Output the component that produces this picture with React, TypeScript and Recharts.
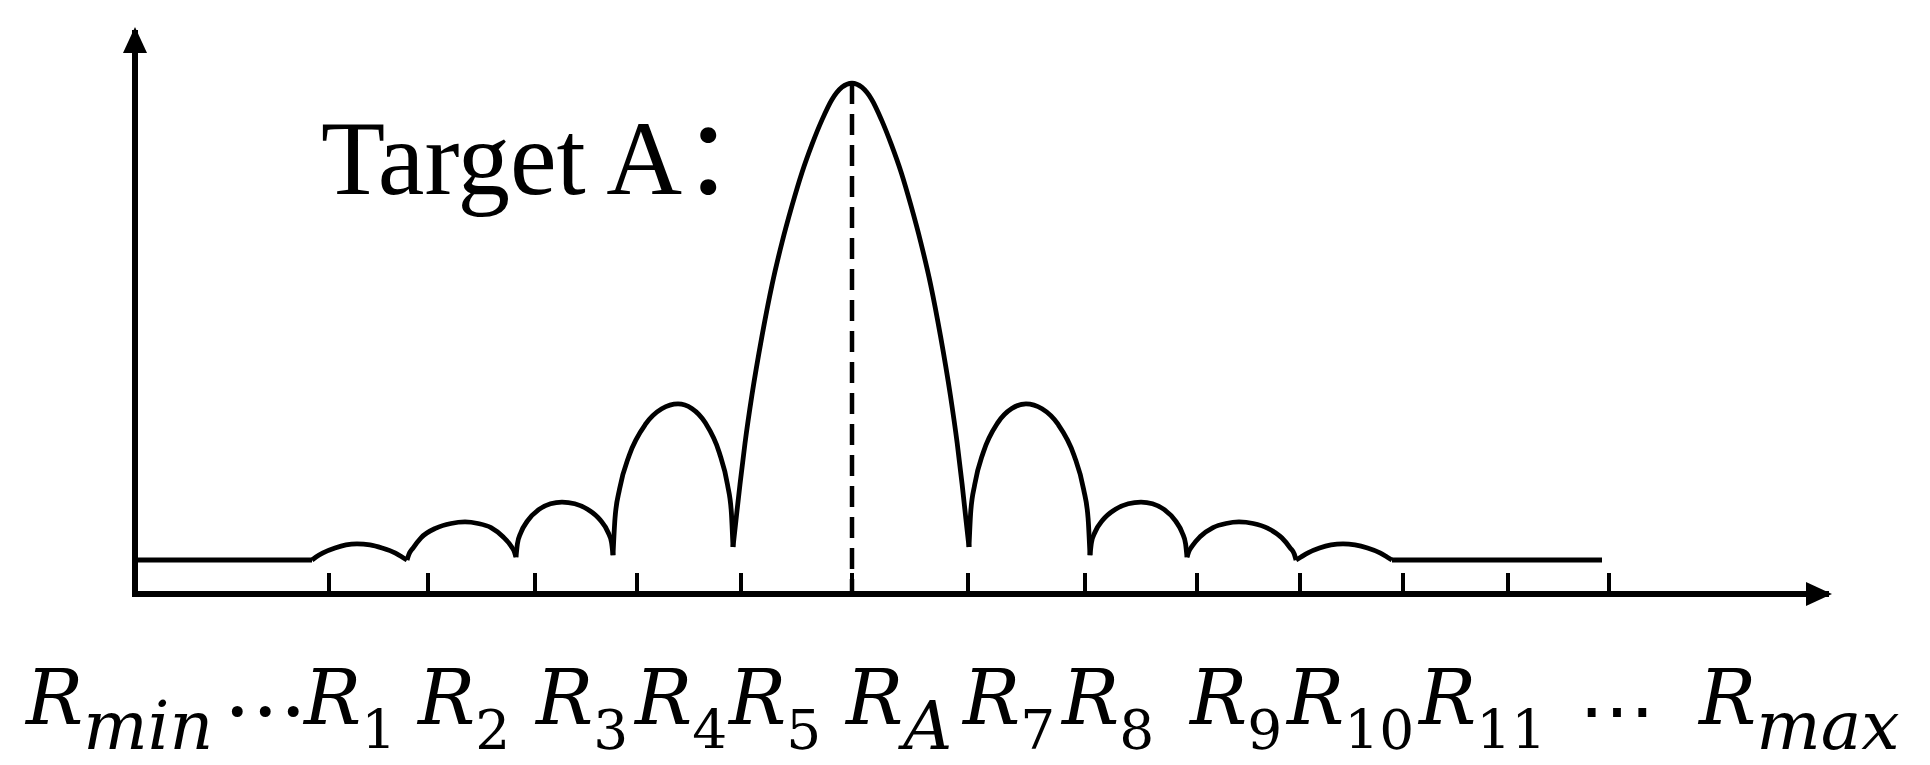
import React from 'react';
import { ComposedChart, Line, XAxis, YAxis, ReferenceLine } from 'recharts';

// Range axis (r) runs from the origin to the arrow, level axis (v) has the main lobe at 100.
// Each lobe is listed as [r, v] pairs.
const leftTail = [[0, 6.65], [177, 6.65]];
const lobe1 = [
  [177, 6.65], [181, 7.25], [188, 8.05], [200, 9.0], [211, 9.6], [222, 9.8],
  [235, 9.6], [247, 9.0], [260, 8.05], [267, 7.25], [272, 6.65],
];
const lobe2 = [
  [272, 6.65], [274, 7.8], [278, 9.0], [286, 11.0], [301, 12.9], [316, 13.8], [330, 14.1],
  [343, 13.8], [356, 13.0], [368, 11.2], [376, 9.4], [379.5, 8.2], [381, 7.2],
];
const lobe3 = [
  [381, 7.2], [382.4, 9.8], [385.6, 11.9], [392.5, 14.3], [404, 16.55], [415.5, 17.65], [427, 18.0],
  [439.75, 17.67], [452.5, 16.6], [465.25, 14.47], [472.9, 12.13], [476.5, 10.13], [478, 7.6],
];
const lobe4 = [
  [478, 7.6], [480, 14.8], [484.5, 20.5], [494.25, 27.17], [510.5, 33.23], [526.75, 36.25], [543, 37.2],
  [556.75, 36.3], [570.5, 33.45], [584.25, 27.71], [592.5, 21.41], [596.35, 16.0], [598, 9.2],
];
const mainLobe = [
  [598, 9.2], [601, 14.5], [605, 21.5], [610, 29.5], [617, 39.0], [627, 50.5], [637, 60.5], [647, 68.8],
  [657, 76.0], [667, 82.5], [677, 88.0], [687, 92.8], [697, 96.8], [707, 99.2], [717, 100],
  [726.8, 99.2], [736.7, 96.8], [746.5, 92.8], [756.3, 88.0], [766.2, 82.5], [776, 76.0], [785.8, 68.8],
  [795.7, 60.5], [805.5, 50.5], [815.3, 39.0], [822.2, 29.5], [827.1, 21.5], [831, 14.5], [834, 9.2],
];
const lobe7 = [
  [834, 9.2], [835.7, 16.0], [839.7, 21.41], [848.25, 27.71], [862.5, 33.45], [876.75, 36.3], [891, 37.2],
  [907, 36.25], [923, 33.23], [939, 27.17], [948.6, 20.5], [953.1, 14.8], [955, 7.6],
];
const lobe8 = [
  [955, 7.6], [956.5, 10.13], [960.1, 12.13], [967.75, 14.47], [980.5, 16.6], [993.25, 17.67], [1006, 18.0],
  [1017.5, 17.65], [1029, 16.55], [1040.5, 14.3], [1047.4, 11.9], [1050.6, 9.8], [1052, 7.2],
];
const lobe9 = [
  [1052, 7.2], [1053.6, 8.2], [1057.2, 9.4], [1065, 11.2], [1078, 13.0], [1091, 13.8], [1104, 14.1],
  [1118.25, 13.8], [1132.5, 12.9], [1146.75, 11.0], [1155.3, 9.0], [1159.3, 7.8], [1161, 6.65],
];
const lobe10 = [
  [1161, 6.65], [1166, 7.25], [1173, 8.05], [1184.5, 9.0], [1196, 9.6], [1208, 9.8],
  [1220, 9.6], [1232.5, 9.0], [1245, 8.05], [1252, 7.25], [1257, 6.65],
];
const rightTail = [[1257, 6.65], [1467, 6.65]];

const segments = [leftTail, lobe1, lobe2, lobe3, lobe4, mainLobe, lobe7, lobe8, lobe9, lobe10, rightTail];

// target bin
const targetR = 717;
const targetPeak = 100;

// ticks: origin, 13 marked range bins, axis end
const tickRs = [0, 194, 293, 400, 502, 606, 717, 833, 950, 1062, 1165, 1268, 1373, 1474, 1691];
const tickBase = ['R', 'R', 'R', 'R', 'R', 'R', 'R', 'R', 'R', 'R', 'R', 'R', '', '⋯', 'R'];
const tickSub = ['min', '1', '2', '3', '4', '5', 'A', '7', '8', '9', '10', '11', '', '', 'max'];
const tickTail = ['…', '', '', '', '', '', '', '', '', '', '', '', '', '', ''];

// label nudges relative to each tick (layout only)
const labelDx = [-109, -25, -10, 1, -2, -12, -6, -5, -23, -7, -13, 16, 0, 8, -127];

const X_MAX = 1691;
const Y_MAX = 109.8;

const toRows = (pts: number[][]) => pts.map(([r, v]) => ({ r, v }));

const MATH_FONT = "'DejaVu Serif', serif";

function RangeTick(props: any) {
  const { x, y, payload } = props;
  const i = tickRs.indexOf(payload.value);
  if (i < 0) return null;
  const marked = i > 0 && i < tickRs.length - 1;
  const base = tickBase[i];
  const sub = tickSub[i];
  const digits = /^[0-9]+$/.test(sub);
  const baseY = y + 130;

  return (
    <g>
      {marked && <line x1={x} y1={y} x2={x} y2={y - 21} stroke="#000" strokeWidth={4} />}
      {base === 'R' && (
        <text x={x + labelDx[i]} y={baseY} fontFamily={MATH_FONT} fill="#000">
          <tspan fontStyle="italic" fontSize={76}>R</tspan>
          <tspan fontStyle={digits ? 'normal' : 'italic'} fontSize={digits ? 55 : 68} dy={25}>{sub}</tspan>
          {tickTail[i] && <tspan fontSize={84} dx={10} dy={-33}>{tickTail[i]}</tspan>}
        </text>
      )}
      {base === '⋯' && (
        <text x={x + labelDx[i]} y={baseY + 12} textAnchor="middle" fontFamily={MATH_FONT} fontSize={76} fill="#000">
          {base}
        </text>
      )}
    </g>
  );
}

export default function App() {
  return (
    <div style={{ position: 'absolute', left: 0, top: 0, width: 1930, height: 765, background: '#fff' }}>
      <svg width={0} height={0} style={{ position: 'absolute' }}>
        <defs>
          <marker
            id="axis-arrow"
            markerUnits="userSpaceOnUse"
            markerWidth={26}
            markerHeight={24}
            refX={20}
            refY={12}
            orient="auto-start-reverse"
          >
            <path d="M0,0 L26,12 L0,24 Z" fill="#000" />
          </marker>
        </defs>
      </svg>
      <ComposedChart width={1930} height={765} margin={{ top: 33, right: 104, bottom: 141, left: 115 }}>
        <XAxis
          type="number"
          dataKey="r"
          domain={[0, X_MAX]}
          ticks={tickRs}
          interval={0}
          height={30}
          tickSize={0}
          tickMargin={0}
          tickLine={false}
          tick={<RangeTick />}
          axisLine={{ stroke: '#000', strokeWidth: 6, strokeLinecap: 'square', markerEnd: 'url(#axis-arrow)' }}
        />
        <YAxis
          type="number"
          domain={[0, Y_MAX]}
          width={20}
          tick={false}
          tickLine={false}
          axisLine={{ stroke: '#000', strokeWidth: 6, strokeLinecap: 'square', markerStart: 'url(#axis-arrow)' }}
        />
        {segments.map((pts, i) => (
          <Line
            key={i}
            data={toRows(pts)}
            dataKey="v"
            type="monotone"
            stroke="#000"
            strokeWidth={4.8}
            strokeLinejoin="round"
            dot={false}
            activeDot={false}
            legendType="none"
            isAnimationActive={false}
          />
        ))}
        <ReferenceLine
          segment={[{ x: targetR, y: targetPeak }, { x: targetR, y: 0 }]}
          stroke="#000"
          strokeWidth={4.5}
          strokeDasharray="21 10"
        />
        <text x={321} y={194} fontFamily="'Liberation Serif', 'Noto Sans CJK SC', serif" fontSize={105} fill="#000">
          Target A：
        </text>
      </ComposedChart>
    </div>
  );
}
